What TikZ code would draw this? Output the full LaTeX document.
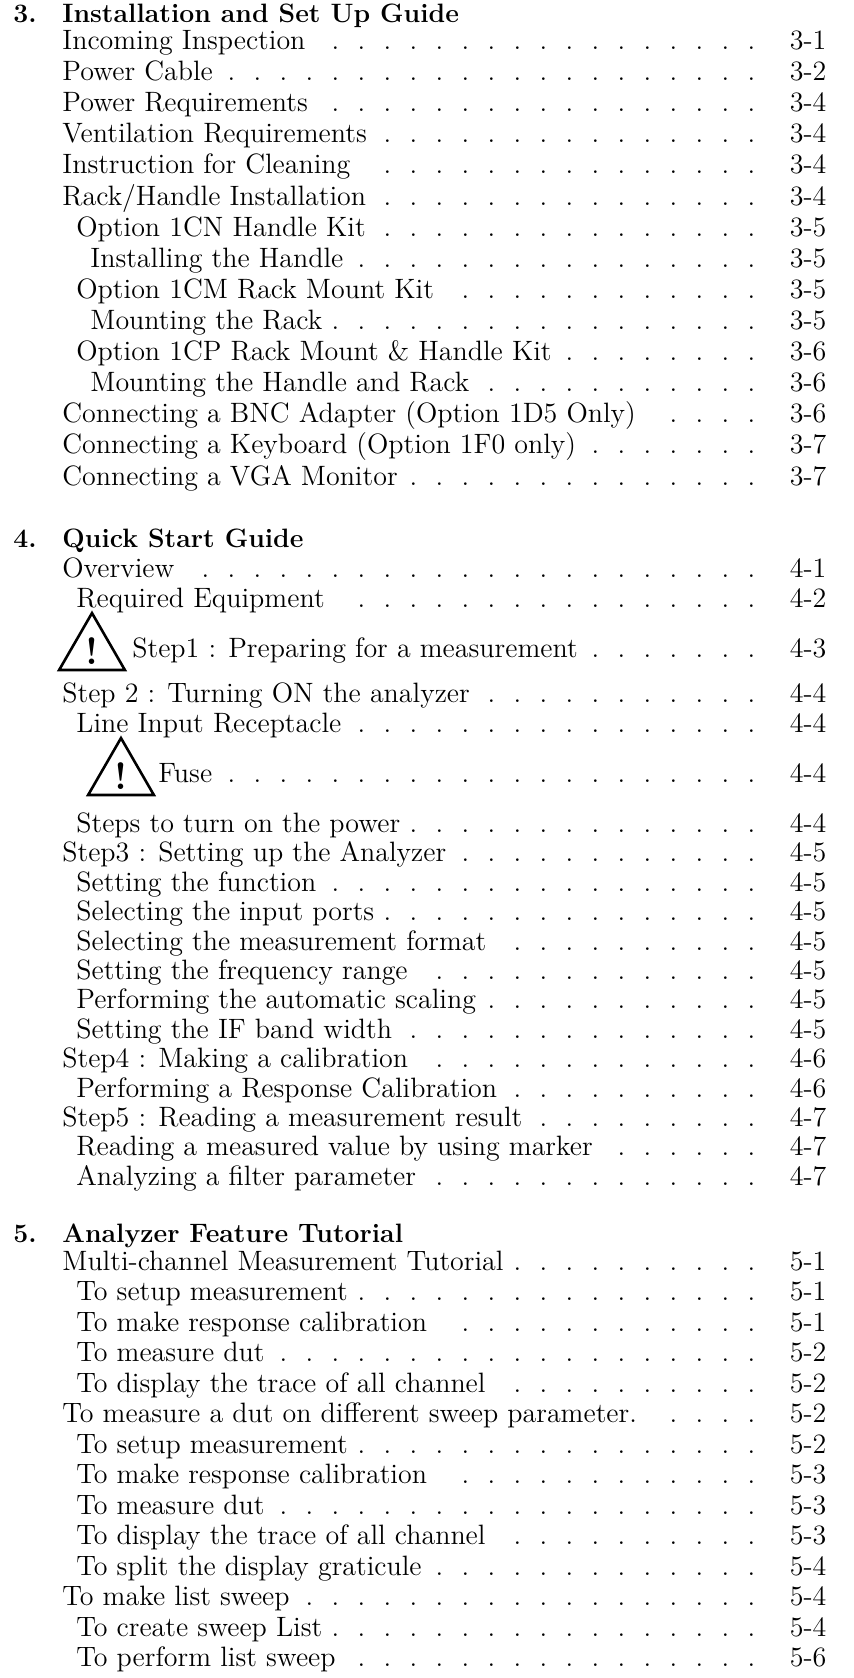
\documentclass[tikz,border=0pt]{standalone}
\usepackage{tikz}
\usetikzlibrary{shapes.geometric}

% one row of the contents: indent, text, page
\newcommand\tocdots{\leaders\hbox to 13pt{\hss.\hss}\hfill}
\newcommand\tocline[3]{\hbox to 382pt{\hskip#1#2\tocdots\hbox to 30pt{\hfil#3}}}

\begin{document}
\begin{tikzpicture}[x=0.5pt, y=-0.5pt,
			entry/.style={anchor=base west, inner sep=0pt, font=\fontsize{14}{16}\selectfont},
			sect/.style={entry, font=\fontsize{13.3}{15}\selectfont\bfseries},
			warn/.style={draw, regular polygon, regular polygon sides=3, minimum size=31.5pt,
				inner sep=0pt, line width=1.3pt, anchor=center, font=\fontsize{19}{19}\selectfont\bfseries}
			]
			\useasboundingbox (0,0) rectangle (854,1678);
			
			% Chapter 3
			\node[sect] (n3) at (13,22) {3.};
			\node[sect] (t3) at (62,22) {Installation and Set Up Guide};
			\node[entry] (r301) at (62,49) {\tocline{0pt}{Incoming Inspection}{3-1}};
			\node[entry] (r302) at (62,80) {\tocline{0pt}{Power Cable}{3-2}};
			\node[entry] (r303) at (62,111) {\tocline{0pt}{Power Requirements}{3-4}};
			\node[entry] (r304) at (62,142) {\tocline{0pt}{Ventilation Requirements}{3-4}};
			\node[entry] (r305) at (62,173) {\tocline{0pt}{Instruction for Cleaning}{3-4}};
			\node[entry] (r306) at (62,205) {\tocline{0pt}{Rack/Handle Installation}{3-4}};
			\node[entry] (r307) at (62,236) {\tocline{7pt}{Option 1CN Handle Kit}{3-5}};
			\node[entry] (r308) at (62,267) {\tocline{14pt}{Installing the Handle}{3-5}};
			\node[entry] (r309) at (62,298) {\tocline{7pt}{Option 1CM Rack Mount Kit}{3-5}};
			\node[entry] (r310) at (62,329) {\tocline{14pt}{Mounting the Rack}{3-5}};
			\node[entry] (r311) at (62,360) {\tocline{7pt}{Option 1CP Rack Mount \& Handle Kit}{3-6}};
			\node[entry] (r312) at (62,391) {\tocline{14pt}{Mounting the Handle and Rack}{3-6}};
			\node[entry] (r313) at (62,422) {\tocline{0pt}{Connecting a BNC Adapter (Option 1D5 Only)}{3-6}};
			\node[entry] (r314) at (62,453) {\tocline{0pt}{Connecting a Keyboard (Option 1F0 only)}{3-7}};
			\node[entry] (r315) at (62,485) {\tocline{0pt}{Connecting a VGA Monitor}{3-7}};
			
			% Chapter 4
			\node[sect] (n4) at (13,547) {4.};
			\node[sect] (t4) at (62,547) {Quick Start Guide};
			\node[entry] (r401) at (62,577) {\tocline{0pt}{Overview}{4-1}};
			\node[entry] (r402) at (62,607) {\tocline{7pt}{Required Equipment}{4-2}};
			\node[warn] (w1) at (92,651) {!};
			\node[entry] (r403) at (62,657) {\tocline{35pt}{Step1 : Preparing for a measurement}{4-3}};
			\node[entry] (r404) at (62,702) {\tocline{0pt}{Step 2 : Turning ON the analyzer}{4-4}};
			\node[entry] (r405) at (62,732) {\tocline{7pt}{Line Input Receptacle}{4-4}};
			\node[warn] (w2) at (121,776) {!};
			\node[entry] (r406) at (62,782) {\tocline{48pt}{Fuse}{4-4}};
			\node[entry] (r407) at (62,832) {\tocline{7pt}{Steps to turn on the power}{4-4}};
			\node[entry] (r408) at (62,861) {\tocline{0pt}{Step3 : Setting up the Analyzer}{4-5}};
			\node[entry] (r409) at (62,891) {\tocline{7pt}{Setting the function}{4-5}};
			\node[entry] (r410) at (62,920) {\tocline{7pt}{Selecting the input ports}{4-5}};
			\node[entry] (r411) at (62,950) {\tocline{7pt}{Selecting the measurement format}{4-5}};
			\node[entry] (r412) at (62,979) {\tocline{7pt}{Setting the frequency range}{4-5}};
			\node[entry] (r413) at (62,1008) {\tocline{7pt}{Performing the automatic scaling}{4-5}};
			\node[entry] (r414) at (62,1038) {\tocline{7pt}{Setting the IF band width}{4-5}};
			\node[entry] (r415) at (62,1067) {\tocline{0pt}{Step4 : Making a calibration}{4-6}};
			\node[entry] (r416) at (62,1097) {\tocline{7pt}{Performing a Response Calibration}{4-6}};
			\node[entry] (r417) at (62,1126) {\tocline{0pt}{Step5 : Reading a measurement result}{4-7}};
			\node[entry] (r418) at (62,1155) {\tocline{7pt}{Reading a measured value by using marker}{4-7}};
			\node[entry] (r419) at (62,1185) {\tocline{7pt}{Analyzing a filter parameter}{4-7}};
			
			% Chapter 5
			\node[sect] (n5) at (13,1242) {5.};
			\node[sect] (t5) at (62,1242) {Analyzer Feature Tutorial};
			\node[entry] (r501) at (62,1270) {\tocline{0pt}{Multi-channel Measurement Tutorial}{5-1}};
			\node[entry] (r502) at (62,1300) {\tocline{7pt}{To setup measurement}{5-1}};
			\node[entry] (r503) at (62,1331) {\tocline{7pt}{To make response calibration}{5-1}};
			\node[entry] (r504) at (62,1361) {\tocline{7pt}{To measure dut}{5-2}};
			\node[entry] (r505) at (62,1392) {\tocline{7pt}{To display the trace of all channel}{5-2}};
			\node[entry] (r506) at (62,1422) {\tocline{0pt}{To measure a dut on different sweep parameter.}{5-2}};
			\node[entry] (r507) at (62,1453) {\tocline{7pt}{To setup measurement}{5-2}};
			\node[entry] (r508) at (62,1483) {\tocline{7pt}{To make response calibration}{5-3}};
			\node[entry] (r509) at (62,1514) {\tocline{7pt}{To measure dut}{5-3}};
			\node[entry] (r510) at (62,1544) {\tocline{7pt}{To display the trace of all channel}{5-3}};
			\node[entry] (r511) at (62,1575) {\tocline{7pt}{To split the display graticule}{5-4}};
			\node[entry] (r512) at (62,1605) {\tocline{0pt}{To make list sweep}{5-4}};
			\node[entry] (r513) at (62,1636) {\tocline{7pt}{To create sweep List}{5-4}};
			\node[entry] (r514) at (62,1666) {\tocline{7pt}{To perform list sweep}{5-6}};
			
		\end{tikzpicture}
\end{document}
